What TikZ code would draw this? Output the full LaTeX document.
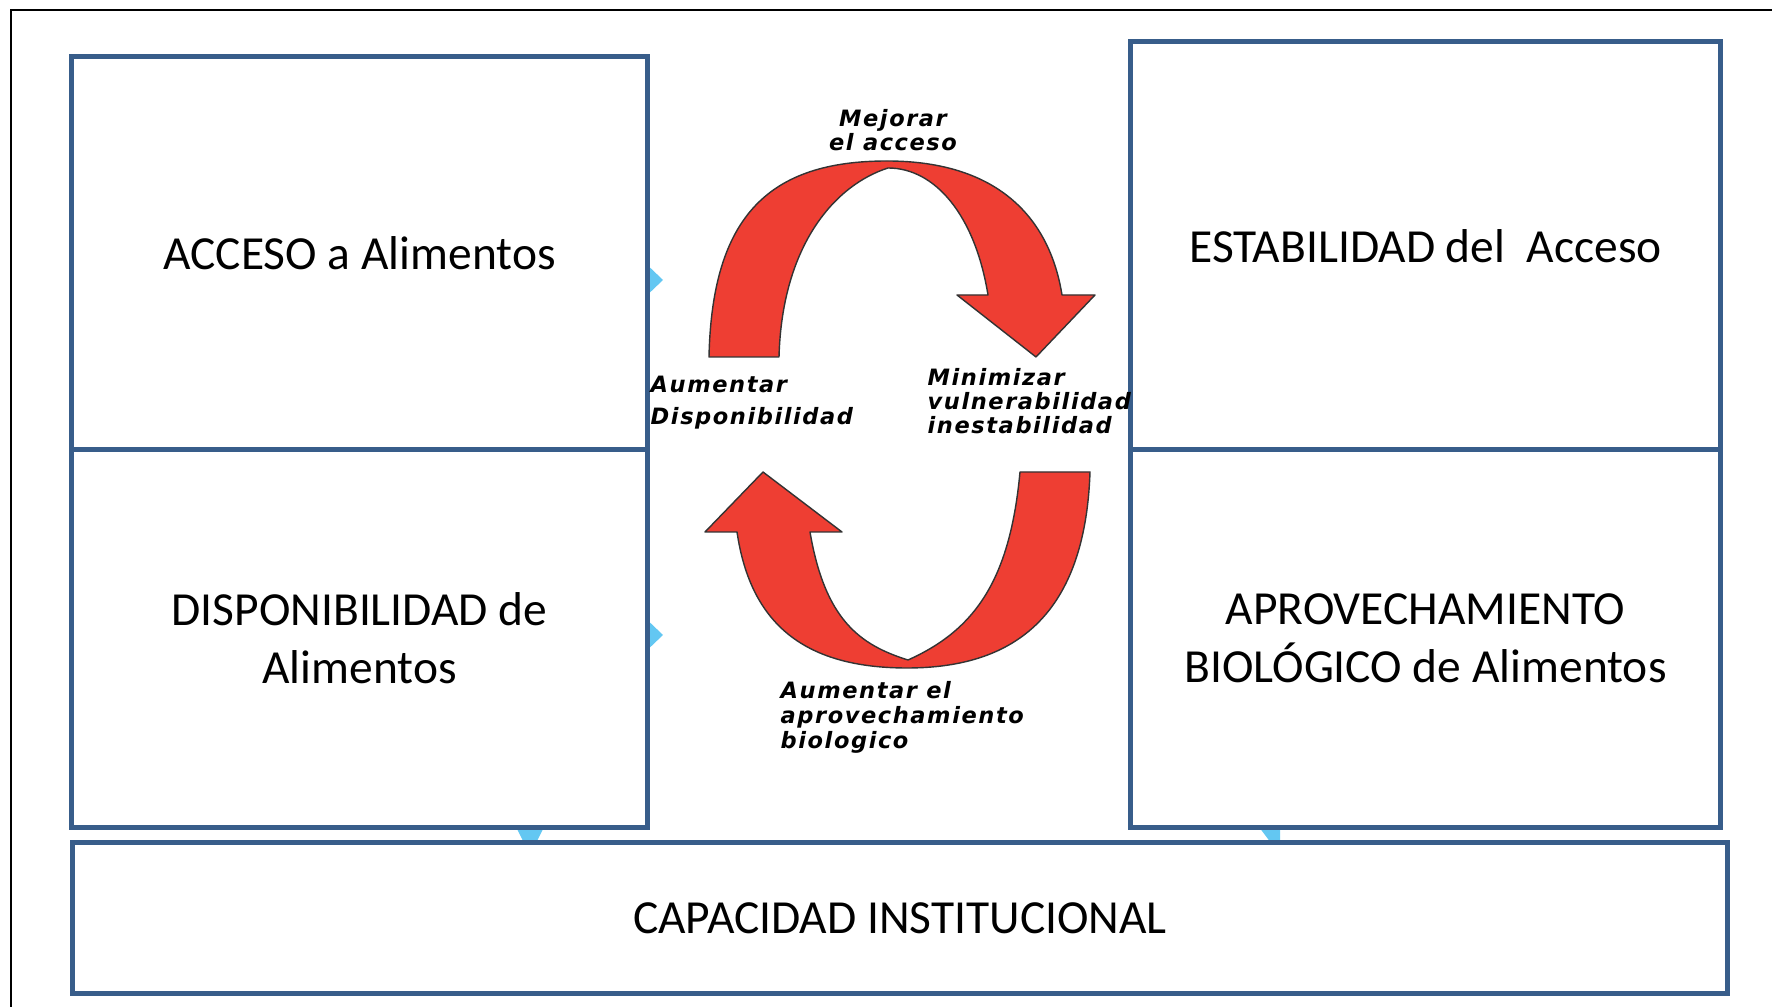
\documentclass[tikz,border=0pt]{standalone}
\usepackage{fontspec}
\setmainfont{Carlito}
\newfontfamily\flechafont[LetterSpace=7]{DejaVu Sans}

\definecolor{bordeazul}{RGB}{56,93,138}
\definecolor{flecharoja}{RGB}{238,62,51}
\definecolor{celeste}{RGB}{99,199,242}

\begin{document}
\begin{tikzpicture}[
    x=0.01cm, y=-0.01cm,
    every node/.style={
        font=\fontsize{13.5pt}{16.4pt}\selectfont
    },
    pilar/.style={
        draw=bordeazul,
        line width=1.4pt,
        fill=white,
        align=center,
        inner sep=0pt
    },
    flecha/.style={
        fill=flecharoja,
        draw=black!80,
        line width=0.4pt,
        line join=round
    },
    etiqueta/.style={
        inner sep=0pt,
        font=\flechafont\bfseries\itshape\fontsize{6.4pt}{6.8pt}\selectfont
    },
    punta/.style={
        fill=celeste
    }
]
\useasboundingbox (0,0) rectangle (1772,1007);
\draw[line width=0.5pt] (11,1007) -- (11,10) -- (1772,10);

\fill[punta] (640,258) -- (663,280) -- (640,302) -- cycle;
\fill[punta] (640,613) -- (663,635) -- (640,657) -- cycle;
\fill[punta] (510,815) -- (550,815) -- (530,855) -- cycle;
\fill[punta] (1250,815) -- (1280,815) -- (1280,855) -- cycle;

\node (acceso) [pilar, minimum width=5.75cm, minimum height=3.93cm] at (359.5,253.5) {ACCESO a Alimentos};
\node (dispon) [pilar, minimum width=5.75cm, minimum height=3.77cm] at (359.5,638.5) {DISPONIBILIDAD de\\Alimentos};
\node (estab)  [pilar, minimum width=5.89cm, minimum height=4.08cm] at (1425.5,246) {ESTABILIDAD del\ \ Acceso};
\node (aprov)  [pilar, minimum width=5.89cm, minimum height=3.77cm] at (1425.5,638.5) {APROVECHAMIENTO\\BIOLÓGICO de Alimentos};
\node (capac)  [pilar, minimum width=16.54cm, minimum height=1.50cm] at (900,918) {CAPACIDAD INSTITUCIONAL};

\draw[flecha] (709,357) .. controls (712,215) and (770,161) .. (887,161)
    .. controls (1000,161) and (1050,220) .. (1062,295)
    -- (1095,295) -- (1036,357) -- (957,295) -- (988,295)
    .. controls (975,215) and (935,168) .. (888,168)
    .. controls (835,185) and (782,245) .. (779,357) -- cycle;
\draw[flecha] (1090,472) .. controls (1085,620) and (1010,668) .. (907,668)
    .. controls (800,668) and (750,620) .. (737,532)
    -- (705,532) -- (763,472) -- (842,532) -- (810,532)
    .. controls (825,620) and (860,645) .. (908,660)
    .. controls (975,630) and (1010,580) .. (1020,472) -- cycle;

\node (mejorar)  [etiqueta, anchor=north, align=center] at (893,109) {Mejorar\\el acceso};
\node (aumentar) [etiqueta, anchor=north west, align=left] at (650,375) {Aumentar\\[2.4pt]Disponibilidad};
\node (minimizar)[etiqueta, anchor=north west, align=left] at (927,368) {Minimizar\\vulnerabilidad\\inestabilidad};
\node (biolog)   [etiqueta, anchor=north west, align=left] at (780,681) {Aumentar el\\[0.3pt]aprovechamiento\\[0.3pt]biologico};
\end{tikzpicture}
\end{document}
